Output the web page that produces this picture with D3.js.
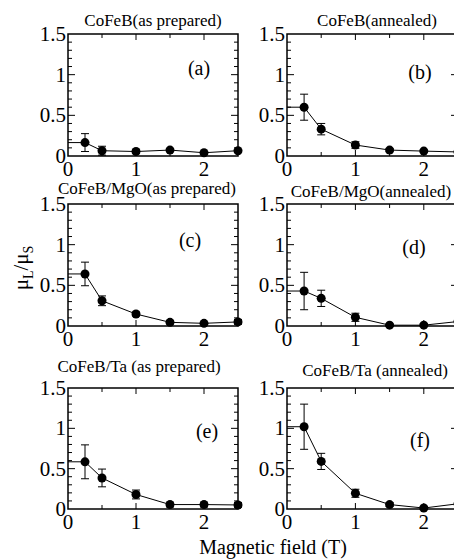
<!DOCTYPE html>
<html>
<head>
<meta charset="utf-8">
<script src="https://cdn.jsdelivr.net/npm/d3@7"></script>
<style>
  body { margin: 0; background: #fff; }
</style>
</head>
<body>
<div id="chart"></div>
<script>
const width = 454,
    height = 560

// magnetic field (T) of each measured point
var fields = [0.25, 0.5, 1, 1.5, 2, 2.5]

var titles = ["CoFeB(as prepared)", "CoFeB(annealed)",
    "CoFeB/MgO(as prepared)", "CoFeB/MgO(annealed)",
    "CoFeB/Ta (as prepared)", "CoFeB/Ta (annealed)"]
var tags = ["(a)", "(b)", "(c)", "(d)", "(e)", "(f)"]

// mu_L / mu_S per panel
var ratioA = [0.165, 0.065, 0.055, 0.073, 0.04, 0.065]
var ratioB = [0.60, 0.33, 0.135, 0.073, 0.06, 0.05]
var ratioC = [0.64, 0.31, 0.147, 0.045, 0.033, 0.05]
var ratioD = [0.43, 0.34, 0.107, 0.01, 0.01, 0.055]
var ratioE = [0.585, 0.385, 0.18, 0.055, 0.055, 0.05]
var ratioF = [1.02, 0.59, 0.195, 0.055, 0.012, 0.065]

// error bars (+/-)
var errA = [0.11, 0.055, 0.02, 0.02, 0.01, 0.015]
var errB = [0.16, 0.07, 0.04, 0.02, 0.01, 0.01]
var errC = [0.145, 0.06, 0.025, 0.02, 0.01, 0.03]
var errD = [0.23, 0.1, 0.05, 0.015, 0.015, 0.02]
var errE = [0.21, 0.11, 0.055, 0.03, 0.03, 0.03]
var errF = [0.28, 0.1, 0.05, 0.025, 0.02, 0.02]

var xTicks = [0, 1, 2]
var yTicks = [0, 0.5, 1, 1.5]
var yTickText = ["0", "0.5", "1", "1.5"]

var series = [ratioA, ratioB, ratioC, ratioD, ratioE, ratioF]
var errors = [errA, errB, errC, errD, errE, errF]

// panel frames in pixels: left/right columns, three rows
var cols = [[68, 238], [287, 458]]
var rows = [[156, 34], [326, 204], [509, 388]]
// title centre x / baseline y, tag centre (pixels)
var titlePos = [[153, 26], [377, 26], [147, 194], [371, 197], [139, 372], [375, 376]]
var tagPos = [[199, 68], [420, 72], [190, 240], [414, 247], [207, 431], [420, 440]]

var serif = "'Liberation Serif', 'Times New Roman', Times, 'DejaVu Serif', serif"

var svg = d3.select("#chart")
    .append("svg")
    .attr("width", width)
    .attr("height", height)
    .attr("font-family", serif)
    .style("display", "block")

series.forEach((vals, i) => {
    var col = cols[i % 2],
        row = rows[Math.floor(i / 2)]

    var x = d3.scaleLinear().domain([0, 2.5]).range(col)
    var y = d3.scaleLinear().domain([0, 1.5]).range(row)

    var g = svg.append("g").attr("class", "panel")

    // inward ticks on all four sides
    var xMinor = d3.range(0.5, 2.5, 0.5)
    var yMinor = d3.range(0.1, 1.5, 0.1)

    g.append("g").selectAll("line")
        .data(xMinor)
        .enter()
        .append("line")
        .attr("x1", d => x(d)).attr("x2", d => x(d))
        .attr("y1", row[0]).attr("y2", d => row[0] - (d % 1 === 0 ? 6 : 4))
        .attr("stroke", "#000").attr("stroke-width", 1)

    g.append("g").selectAll("line")
        .data(xMinor)
        .enter()
        .append("line")
        .attr("x1", d => x(d)).attr("x2", d => x(d))
        .attr("y1", row[1]).attr("y2", d => row[1] + (d % 1 === 0 ? 6 : 4))
        .attr("stroke", "#000").attr("stroke-width", 1)

    ;[col[0], col[1]].forEach((edge, k) => {
        var dir = k === 0 ? 1 : -1
        g.append("g").selectAll("line")
            .data(yMinor)
            .enter()
            .append("line")
            .attr("y1", d => y(d)).attr("y2", d => y(d))
            .attr("x1", edge)
            .attr("x2", d => edge + dir * (Math.abs(d * 2 - Math.round(d * 2)) < 1e-6 ? 7 : 4))
            .attr("stroke", "#000").attr("stroke-width", 1)
    })

    // frame
    g.append("rect")
        .attr("x", col[0]).attr("y", row[1])
        .attr("width", col[1] - col[0]).attr("height", row[0] - row[1])
        .attr("fill", "none").attr("stroke", "#000").attr("stroke-width", 1.5)

    // tick labels
    g.append("g").selectAll("text")
        .data(xTicks)
        .enter()
        .append("text")
        .attr("x", d => x(d))
        .attr("y", row[0] + 20)
        .attr("text-anchor", "middle")
        .attr("font-size", 21)
        .text(d => d)

    g.append("g").selectAll("text")
        .data(yTicks)
        .enter()
        .append("text")
        .attr("x", col[0] - 2)
        .attr("y", d => y(d))
        .attr("dy", "0.33em")
        .attr("text-anchor", "end")
        .attr("font-size", 21)
        .text((d, j) => yTickText[j])

    // title and tag
    g.append("text")
        .attr("x", titlePos[i][0]).attr("y", titlePos[i][1])
        .attr("text-anchor", "middle")
        .attr("font-size", 17)
        .text(titles[i])

    g.append("text")
        .attr("x", tagPos[i][0]).attr("y", tagPos[i][1])
        .attr("dy", "0.35em")
        .attr("text-anchor", "middle")
        .attr("font-size", 20)
        .text(tags[i])

    var pts = fields.map((f, j) => ({ f: f, v: vals[j], e: errors[i][j] }))

    // line starts flat from the axis at the first value
    var line = d3.line().x(d => x(d.f)).y(d => y(d.v))
    g.append("path")
        .datum([{ f: 0, v: vals[0] }].concat(pts))
        .attr("d", line)
        .attr("fill", "none")
        .attr("stroke", "#000")
        .attr("stroke-width", 1)

    var bar = g.append("g").selectAll("g")
        .data(pts)
        .enter()
        .append("g")

    bar.append("line")
        .attr("x1", d => x(d.f)).attr("x2", d => x(d.f))
        .attr("y1", d => y(d.v - d.e)).attr("y2", d => y(d.v + d.e))
        .attr("stroke", "#000").attr("stroke-width", 1)

    bar.selectAll(".cap")
        .data(d => [d.v - d.e, d.v + d.e].map(v => ({ f: d.f, v: v })))
        .enter()
        .append("line")
        .attr("class", "cap")
        .attr("x1", d => x(d.f) - 4).attr("x2", d => x(d.f) + 4)
        .attr("y1", d => y(d.v)).attr("y2", d => y(d.v))
        .attr("stroke", "#000").attr("stroke-width", 1)

    bar.append("circle")
        .attr("cx", d => x(d.f))
        .attr("cy", d => y(d.v))
        .attr("r", 4.5)
        .attr("fill", "#000")
})

// axis titles
svg.append("text")
    .attr("x", 273)
    .attr("y", 554)
    .attr("text-anchor", "middle")
    .attr("font-size", 20)
    .text("Magnetic field (T)")

var ylab = svg.append("text")
    .attr("transform", "translate(28,268) rotate(-90)")
    .attr("text-anchor", "middle")
    .attr("font-size", 21)
ylab.append("tspan").text("μ")
ylab.append("tspan").attr("font-size", 14).attr("dy", 5).text("L")
ylab.append("tspan").attr("dy", -5).text("/μ")
ylab.append("tspan").attr("font-size", 14).attr("dy", 5).text("S")
</script>
</body>
</html>
